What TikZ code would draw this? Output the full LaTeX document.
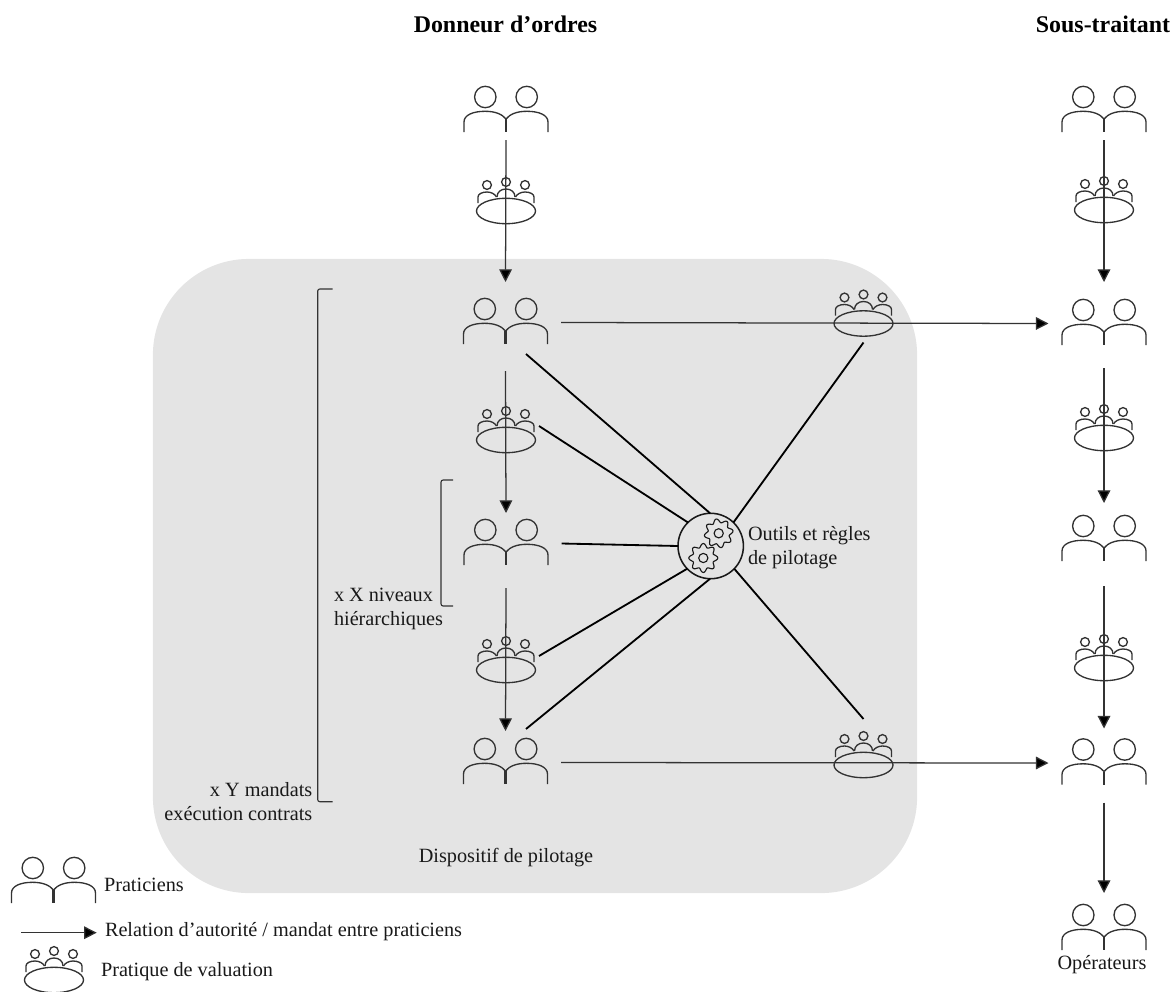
\documentclass[tikz,border=0pt]{standalone}
\usepackage{fontspec}
\setmainfont{Liberation Serif}
\usetikzlibrary{arrows.meta,calc}
\definecolor{zonegrey}{HTML}{E4E4E4}
\definecolor{icongrey}{HTML}{333333}
\tikzstyle{zone} = [rectangle, fill=zonegrey, rounded corners=2.4cm, minimum width=19.1cm, minimum height=15.85cm, inner sep=0pt, outer sep=0pt]
\tikzstyle{actor} = [rectangle, minimum width=2.775cm, minimum height=1.475cm, inner sep=0pt, outer sep=0pt]
\tikzstyle{table} = [rectangle, minimum width=1.65cm, minimum height=1.15cm, inner sep=0pt, outer sep=0pt]
\tikzstyle{tool} = [circle, draw=black!90, line width=1.1pt, minimum size=1.635cm, inner sep=0pt, outer sep=0pt]
\tikzstyle{label} = [inner sep=0pt, outer sep=0pt, text=black!90, font=\fontsize{14.4}{17}\selectfont]
\tikzstyle{title} = [inner sep=0pt, outer sep=0pt, font=\fontsize{17}{20}\selectfont\bfseries]
\tikzset{relation/.style = {
    icongrey, line width=0.9pt,
    -{Triangle[length=9pt, width=9pt, fill=black]},
  },
  control/.style = {black, line width=1.3pt},
  bracket/.style = {icongrey, line width=0.8pt, rounded corners=1.5pt},
  icon/.style = {icongrey, line width=0.95pt},
}
% two people, #2 is the height of their heads
\newcommand{\praticien}[2]{%
  \begin{scope}[shift={(#2)}]
    \node[actor] (#1) at (0,13.5) {};
    \draw[icon] (-20.7,0) circle (10.7);
    \draw[icon] (20.7,0) circle (10.7);
    \draw[icon] (-42,35) -- (-42,25) .. controls (-42,18) and (-33,14.3) .. (-21,14.3) .. controls (-11,14.3) and (-4,17) .. (0,22);
    \draw[icon] (42,35) -- (42,25) .. controls (42,18) and (33,14.3) .. (21,14.3) .. controls (11,14.3) and (4,17) .. (0,22);
    \draw[icon, line width=1.5pt] (0,22) -- (0,35);
  \end{scope}
}
% three people behind an ellipse, #2 is the centre of the ellipse
\newcommand{\valuation}[2]{%
  \begin{scope}[shift={(#2)}]
    \node[table] (#1) at (0,-10) {};
    \draw[icon] (0,0) ellipse (29.5 and 12.7);
    \draw[icon] (-19,-26) circle (4.4);
    \draw[icon] (0,-29) circle (4.4);
    \draw[icon] (19,-26) circle (4.4);
    \draw[icon] (-28,-8) -- (-28,-14) .. controls (-28,-17) and (-24,-19) .. (-19,-19) .. controls (-15,-19) and (-11,-17) .. (-9.5,-14);
    \draw[icon] (-9,-14) .. controls (-9,-19) and (-5,-22) .. (0,-22) .. controls (5,-22) and (9,-19) .. (9,-14);
    \draw[icon] (28,-8) -- (28,-14) .. controls (28,-17) and (24,-19) .. (19,-19) .. controls (15,-19) and (11,-17) .. (9.5,-14);
  \end{scope}
}
\newcommand{\engrenage}[2]{%
  \draw[black!90, line width=0.8pt, shift={(#1)}, rotate=#2] plot[domain=0:360, samples=81, smooth cycle] (\x:{12.6+1.9*cos(8*\x)});
  \draw[black!90, line width=0.8pt, shift={(#1)}] (0,0) circle (4.6);
}

\begin{document}
\begin{tikzpicture}[x=0.025cm, y=-0.025cm]
  \useasboundingbox (0,0) rectangle (1176,992);
  \node[zone] (dispositif) at (535,576) {};

  % titles
  \node[title] (donneur) at (505.5,24) {Donneur d’ordres};
  \node[title] (soustraitant) at (1103,24) {Sous-traitant};

  % vertices
  \praticien{p1}{506,97}
  \praticien{p2}{505.5,309}
  \praticien{p3}{506,530}
  \praticien{p4}{505.5,749}
  \praticien{q1}{1104,97}
  \praticien{q2}{1104,310}
  \praticien{q3}{1104,526}
  \praticien{q4}{1104,749.5}
  \praticien{q5}{1104,915}
  \valuation{t1}{506,211}
  \valuation{t2}{506,440}
  \valuation{t3}{506,670}
  \valuation{t4}{863.5,323.5}
  \valuation{t5}{863.5,765}
  \valuation{r1}{1104,210}
  \valuation{r2}{1104,438}
  \valuation{r3}{1104,668}
  \node[tool] (outils) at (710.7,546) {};
  \engrenage{718.7,533.3}{10}
  \engrenage{703.3,558}{0}

  % edges
  \draw[relation] (p1.south) -- ($(p2.north)+(0,-11)$);
  \draw[relation] ($(p2.south)+(0,19)$) -- ($(p3.north)+(0,-1)$);
  \draw[relation] ($(p3.south)+(0,15)$) -- ($(p4.north)+(0,-2)$);
  \draw[relation] (p2.east) -- (q2.west);
  \draw[relation] (p4.east) -- (q4.west);
  \draw[relation] (q1.south) -- ($(q2.north)+(0,-12)$);
  \draw[relation] ($(q2.south)+(0,15)$) -- ($(q3.north)+(0,-7)$);
  \draw[relation] ($(q3.south)+(0,17)$) -- ($(q4.north)+(0,-5)$);
  \draw[relation] ($(q4.south)+(0,10)$) -- ($(q5.north)+(0,-6)$);

  % tools
  \draw[control] ($(p2.south)+(20.5,2)$) -- (outils.91);
  \draw[control] ($(t2.east)+(0,-4)$) -- (outils.134);
  \draw[control] (p3.east) -- (outils.180);
  \draw[control] ($(t3.east)+(0,-4)$) -- (outils.224);
  \draw[control] ($(p4.north)+(20.5,-4)$) -- (outils.269);
  \draw[control] ($(t4.south)+(0,6)$) -- (outils.46);
  \draw[control] ($(t5.north)+(0,-13)$) -- (outils.-44);

  % brackets
  \draw[bracket] (332.7,289) -- (317.7,289) -- (317.7,801.7) -- (332.7,801.7);
  \draw[bracket] (453,480) -- (441,480) -- (441,606) -- (453,606);

  % texts
  \node[label, anchor=west, align=left] (outilstext) at (748,548) {Outils et règles\\de pilotage};
  \node[label, anchor=west, align=left] (niveaux) at (334,609) {x X niveaux\\hiérarchiques};
  \node[label, anchor=east, align=right] (mandats) at (312.3,801.5) {x Y mandats\\exécution contrats};
  \node[label] (pilotage) at (506,858) {Dispositif de pilotage};
  \node[label] (operateurs) at (1102,965) {Opérateurs};

  % legend
  \praticien{leg1}{53.5,868}
  \valuation{leg3}{54,980}
  \coordinate (legA) at (21,932.7);
  \coordinate (legB) at (96.7,932.7);
  \draw[relation] (legA) -- (legB);
  \node[label, anchor=west] (legtext1) at (104,885) {Praticiens};
  \node[label, anchor=west] (legtext2) at (105,931.5) {Relation d’autorité / mandat entre praticiens};
  \node[label, anchor=west] (legtext3) at (101,972) {Pratique de valuation};
\end{tikzpicture}
\end{document}
